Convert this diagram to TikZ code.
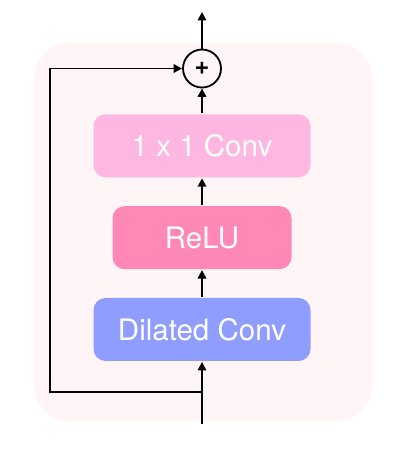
\documentclass[tikz,border=0pt]{standalone}
\usepackage{fontspec}
\setsansfont{TeX Gyre Heros}
\usetikzlibrary{arrows.meta, positioning}
\definecolor{bgpink}{HTML}{FFF5F6}
\definecolor{convpink}{HTML}{FDB7E0}
\definecolor{relupink}{HTML}{FF88B6}
\definecolor{dilblue}{HTML}{8F9DFF}
\def\blocksep{0.675cm}

\begin{document}
\begin{tikzpicture}[line width=1.3pt, node distance=\blocksep]
    \tikzstyle{link}=[-{Triangle[length=6pt,width=6pt]}]
    \tikzstyle{block}=[rectangle, rounded corners=0.3cm, minimum height=1.575cm, inner sep=0pt, text=white, font=\sffamily\fontsize{21}{25}\selectfont]
    \tikzstyle{sum}=[circle, draw=black, minimum size=0.95cm, inner sep=0pt, font=\sffamily\bfseries\fontsize{18}{20}\selectfont]

    \useasboundingbox (0,0) rectangle (10.4,11.35);

    % Draw the background
    \fill[bgpink, rounded corners=0.875cm] (0.85,0.825) rectangle (9.3,10.275);

    % Draw the blocks
    \node[block, fill=dilblue, minimum width=5.425cm] (D) at (5.05,3.1125) {Dilated Conv};
    \node[block, fill=relupink, minimum width=4.475cm, above=of D] (R) {ReLU};
    \node[block, fill=convpink, minimum width=5.425cm, above=of R] (C) {1 x 1 Conv};
    \node[sum, above=0.625cm of C] (S) {+};

    \coordinate (in) at (5.05,0.75);
    \coordinate (out) at (5.05,11.05);
    \coordinate (skip) at (5.05,1.55);
    \coordinate (corner) at (1.25,1.55);

    % Connect the blocks
    \draw[link] (in) -- (D);
    \draw[link] (D) -- (R);
    \draw[link] (R) -- (C);
    \draw[link] (C) -- (S);
    \draw[link] (S) -- (out);

    % Residual connection
    \draw[link] (skip) -- (corner) |- (S.west);
\end{tikzpicture}
\end{document}
